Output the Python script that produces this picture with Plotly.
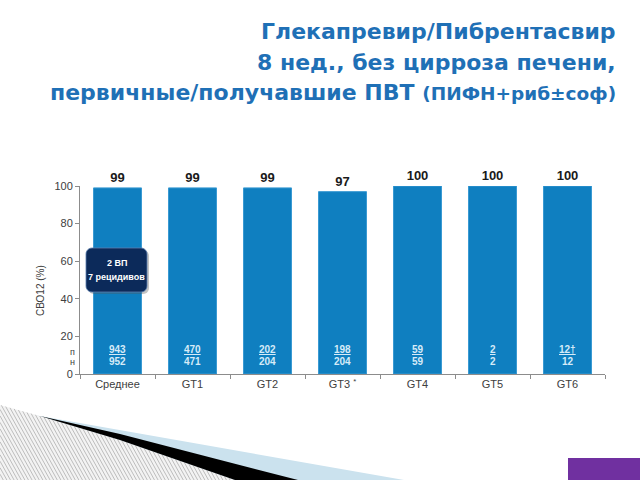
import math
import plotly.graph_objects as go

categories = ["Среднее", "GT1", "GT2", "GT3 <sup>*</sup>", "GT4", "GT5", "GT6"]
svr12 = [99, 99, 99, 97, 100, 100, 100]
n_responders = ["943", "470", "202", "198", "59", "2", "12†"]
n_total = ["952", "471", "204", "204", "59", "2", "12"]
y_ticks = [0, 20, 40, 60, 80, 100]

# plot-area geometry in pixels (640x480 canvas)
L, R, T, B = 80, 605, 186, 374
W, H = R - L, B - T


def px(x, y):
    return (x - L) / W, (B - y) / H


def poly(points):
    s = ""
    for i, (x, y) in enumerate(points):
        a, b = px(x, y)
        s += ("M" if i == 0 else "L") + f"{a:.5f},{b:.5f} "
    return s + "Z"


def rounded_rect(x0, y0, x1, y1, r):
    pts = []
    corners = [(x1 - r, y0 + r, -90, 0), (x1 - r, y1 - r, 0, 90),
               (x0 + r, y1 - r, 90, 180), (x0 + r, y0 + r, 180, 270)]
    for cx, cy, a0, a1 in corners:
        for k in range(7):
            a = math.radians(a0 + (a1 - a0) * k / 6)
            pts.append((cx + r * math.cos(a), cy + r * math.sin(a)))
    return poly(pts)


fig = go.Figure()
fig.add_trace(go.Bar(
    x=categories, y=svr12,
    marker=dict(color="#0f7fc0", line=dict(color="#3a9ad3", width=1)),
    width=0.64,
    text=[str(v) for v in svr12], textposition="outside",
    textfont=dict(family="Liberation Sans", size=13, color="#1a1a1a", weight="bold"),
    cliponaxis=False, hoverinfo="skip",
))

annotations = []
for c, nr, nt in zip(categories, n_responders, n_total):
    annotations.append(dict(x=c, y=12.8, xref="x", yref="y", text=nr, showarrow=False,
                            font=dict(family="Liberation Sans", size=10, color="#d6ebf8",
                                      weight="bold", lineposition="under")))
    annotations.append(dict(x=c, y=6.4, xref="x", yref="y", text=nt, showarrow=False,
                            font=dict(family="Liberation Sans", size=10, color="#d6ebf8",
                                      weight="bold")))


def label(x, y, text, size, color, **kw):
    a, b = px(x, y)
    d = dict(x=a, y=b, xref="paper", yref="paper", text=text, showarrow=False,
             xanchor="center", yanchor="middle",
             font=dict(family="Liberation Sans", size=size, color=color))
    d.update(kw)
    annotations.append(d)


label(72, 352, "п", 9, "#404040")
label(72, 362, "н", 9, "#404040")
label(40, 290, "СВО12 (%)", 10, "#404040", textangle=-90)
label(116.5, 263, "<b>2 ВП</b>", 9, "white")
label(116.5, 277, "<b>7 рецидивов</b>", 9, "white")

# title
title_lines = [
    ("Глекапревир/Пибрентасвир", 31),
    ("8 нед., без цирроза печени,", 62),
    ("первичные/получавшие ПВТ <span style='font-size:18.5px'>(ПИФН+риб±соф)</span>", 93),
]
for txt, yy in title_lines:
    a, b = px(618, yy)
    annotations.append(dict(x=a, y=b, xref="paper", yref="paper", text=txt, showarrow=False,
                            xanchor="right", yanchor="middle",
                            font=dict(family="DejaVu Sans", size=22, color="#1f70b6", weight="bold")))

# decorative corner graphics
edge = [(0, 405), (40, 416), (120, 440), (235, 480)]


def edge_y(x):
    for (x0, y0), (x1, y1) in zip(edge[:-1], edge[1:]):
        if x0 <= x <= x1:
            return y0 + (y1 - y0) * (x - x0) / (x1 - x0)
    return 480


shapes = [
    dict(type="path", xref="paper", yref="paper", path=poly([(0, 409), (404, 480), (0, 480)]),
         fillcolor="#cbe2ee", line=dict(width=0), layer="below"),
    dict(type="path", xref="paper", yref="paper", path=poly(edge + [(0, 480)]),
         fillcolor="#f3f3f3", line=dict(width=0), layer="below"),
]
slope = 1.8
c = -60.0
while c < 240:
    ys = None
    for k in range(0, 800):
        y = 405 + k * 0.1
        x = c + (y - 405) / slope
        if x >= 0 and y >= edge_y(x):
            ys = y
            break
    if ys is not None and ys < 480:
        xs = c + (ys - 405) / slope
        xe = c + (480 - 405) / slope
        a0, b0 = px(xs, ys)
        a1, b1 = px(xe, 480)
        shapes.append(dict(type="line", xref="paper", yref="paper", x0=a0, y0=b0, x1=a1, y1=b1,
                           line=dict(color="#bdbdbd", width=1), layer="below"))
    c += 3.6

shapes += [
    dict(type="path", xref="paper", yref="paper",
         path=poly([(40, 416), (120, 434), (298, 480), (235, 480), (120, 440)]),
         fillcolor="#000000", line=dict(width=0), layer="below"),
    dict(type="path", xref="paper", yref="paper", path=poly([(568, 458), (640, 458), (640, 480), (568, 480)]),
         fillcolor="#7030a0", line=dict(width=0)),
    dict(type="path", xref="paper", yref="paper", path=rounded_rect(88, 250, 149, 294, 6),
         fillcolor="#555555", opacity=0.35, line=dict(width=0)),
    dict(type="path", xref="paper", yref="paper", path=rounded_rect(86, 248, 147, 292, 6),
         fillcolor="#0c2a5a", line=dict(color="#5a7fb0", width=0.8)),
]

fig.update_layout(
    width=640, height=480,
    margin=dict(l=L, r=640 - R, t=T, b=480 - B, autoexpand=False),
    paper_bgcolor="white", plot_bgcolor="white",
    showlegend=False, bargap=0.36,
    annotations=annotations, shapes=shapes,
    xaxis=dict(showline=True, linecolor="#8c8c8c", linewidth=1, ticks="outside", tickson="boundaries",
               ticklen=4, tickcolor="#8c8c8c", showgrid=False, range=[-0.5, 6.5],
               tickfont=dict(family="Liberation Sans", size=11, color="#404040"), fixedrange=True),
    yaxis=dict(range=[0, 100], tickvals=y_ticks, showline=True, linecolor="#8c8c8c", linewidth=1,
               ticks="outside", ticklen=4, tickcolor="#8c8c8c", showgrid=False, zeroline=False,
               tickfont=dict(family="Liberation Sans", size=11, color="#404040"), fixedrange=True),
)

fig.write_html("out.html")
